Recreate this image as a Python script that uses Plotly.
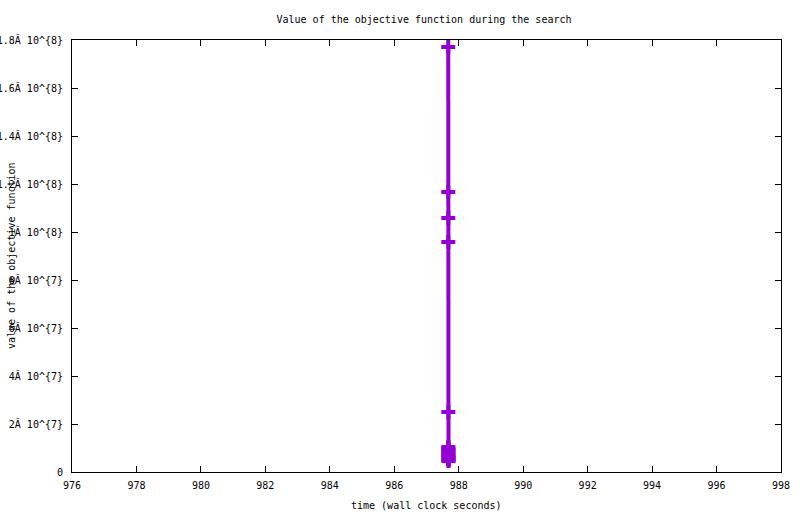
import plotly.graph_objects as go

# data
times = [987.675, 987.676, 987.677, 987.677, 987.678, 987.678, 987.679, 987.679,
         987.68, 987.68, 987.681, 987.681, 987.682, 987.682, 987.683, 987.683]
objective = [1.771e8, 1.167e8, 1.058e8, 9.58e7, 2.5e7, 1.04e7, 9.8e6, 9.2e6,
             8.5e6, 7.8e6, 7.1e6, 6.5e6, 5.9e6, 5.3e6, 4.9e6, 4.6e6]

xticks = [976, 978, 980, 982, 984, 986, 988, 990, 992, 994, 996, 998]
yticks = [0, 2e7, 4e7, 6e7, 8e7, 1e8, 1.2e8, 1.4e8, 1.6e8, 1.8e8]
yticklabels = ["0", "2Ă 10^{7}", "4Ă 10^{7}", "6Ă 10^{7}", "8Ă 10^{7}",
               "1Ă 10^{8}", "1.2Ă 10^{8}", "1.4Ă 10^{8}", "1.6Ă 10^{8}", "1.8Ă 10^{8}"]

FONT = "DejaVu Sans Mono"
COLOR = "#9400D3"

fig = go.Figure()
fig.add_trace(go.Scatter(
    x=times, y=objective, mode="lines+markers",
    line=dict(color=COLOR, width=4),
    marker=dict(symbol="cross-thin", size=10, color=COLOR,
                line=dict(color=COLOR, width=4)),
    showlegend=False, cliponaxis=False,
))

fig.update_layout(
    width=800, height=514,
    margin=dict(l=72, r=19, t=40, b=42, autoexpand=False),
    plot_bgcolor="white", paper_bgcolor="white",
    font=dict(family=FONT, size=10, color="black"),
    title=dict(text="Value of the objective function during the search",
               x=0.53, xanchor="center", y=0.963, yanchor="middle",
               font=dict(family=FONT, size=10, color="black")),
    xaxis=dict(range=[976, 998], tickvals=xticks, ticktext=[str(t) for t in xticks],
               ticks="inside", ticklen=6, tickcolor="black", mirror="ticks",
               showline=True, linecolor="black", linewidth=1, automargin=False,
               showgrid=False, zeroline=False, ticklabelstandoff=4),
    yaxis=dict(range=[0, 1.8e8], tickvals=yticks, ticktext=yticklabels,
               ticks="inside", ticklen=6, tickcolor="black", mirror="ticks",
               showline=True, linecolor="black", linewidth=1, automargin=False,
               showgrid=False, zeroline=False, ticklabelstandoff=6),
    annotations=[
        dict(text="time (wall clock seconds)", xref="paper", yref="paper",
             x=0.5, y=0, yshift=-33, showarrow=False, xanchor="center",
             yanchor="middle", font=dict(family=FONT, size=10)),
        dict(text="value of the objective function", xref="paper", yref="paper",
             x=0, xshift=-61, y=0.5, yshift=0, textangle=-90, showarrow=False,
             xanchor="center", yanchor="middle", font=dict(family=FONT, size=10)),
    ],
)

fig.write_html("out.html", config={"displayModeBar": False},
               post_script="document.body.style.margin='0';")
